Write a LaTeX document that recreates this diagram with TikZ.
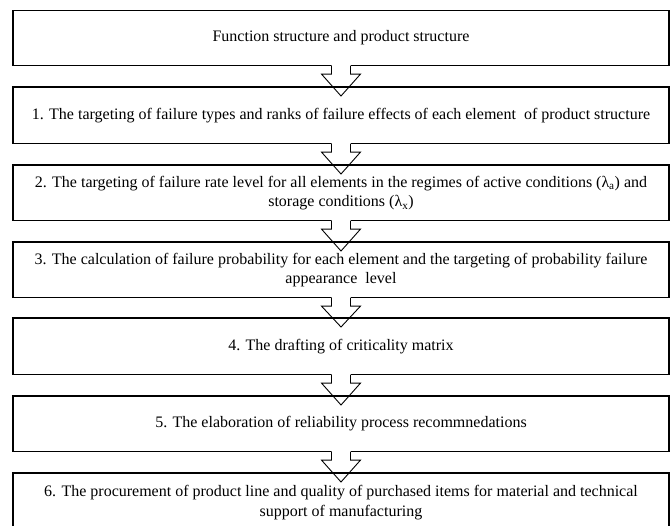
\documentclass[tikz,border=0pt]{standalone}
\usepackage{fontspec}
\setmainfont{Liberation Serif}
\usetikzlibrary{calc}
\newcommand\flowstep[2]{%
  \fill[white] ($(#1.south)+(-9.5,1.2)$) -- ($(#1.south)+(-9.5,-8)$) -- ($(#1.south)+(-19.5,-8)$) -- ($(#2.north)+(0,-9)$) -- ($(#1.south)+(19.5,-8)$) -- ($(#1.south)+(9.5,-8)$) -- ($(#1.south)+(9.5,1.2)$) -- cycle;
  \draw[arrowline] ($(#1.south)+(-9.5,0)$) -- ($(#1.south)+(-9.5,-8)$) -- ($(#1.south)+(-19.5,-8)$) -- ($(#2.north)+(0,-9)$) -- ($(#1.south)+(19.5,-8)$) -- ($(#1.south)+(9.5,-8)$) -- ($(#1.south)+(9.5,0)$);
  \draw[boxline] ($(#2.north west)+(-0.55,0)$) -- ($(#2.north east)+(0.55,0)$);
}
\begin{document}
\begin{tikzpicture}[x=1pt,y=1pt,
  boxline/.style={draw=black, line width=1.1pt},
  arrowline/.style={draw=black, line width=0.9pt, line join=miter},
  stepbox/.style={boxline, minimum width=656pt, minimum height=55pt, inner sep=0pt,
    align=center, anchor=north, font=\fontsize{16}{19.5}\selectfont}]
\useasboundingbox (0,0) rectangle (672,-526);
\node[stepbox] (b0) at (341,-10) {Function structure and product structure};
\node[stepbox, minimum height=56pt] (b1) at (341,-87) {1. The targeting of failure types and ranks of failure effects of each element~ of product structure};
\node[stepbox] (b2) at (341,-165) {2. The targeting of failure rate level for all elements in the regimes of active conditions (λ\textsubscript{a}) and\\storage conditions (λ\textsubscript{x})};
\node[stepbox] (b3) at (341,-242) {3. The calculation of failure probability for each element and the targeting of probability failure\\appearance~ level};
\node[stepbox, minimum height=56pt] (b4) at (341,-318) {4. The drafting of criticality matrix};
\node[stepbox] (b5) at (341,-396) {5. The elaboration of reliability process recommnedations};
\node[stepbox, minimum height=58pt] (b6) at (341,-473) {6. The procurement of product line and quality of purchased items for material and technical\\support of manufacturing};
\flowstep{b0}{b1}
\flowstep{b1}{b2}
\flowstep{b2}{b3}
\flowstep{b3}{b4}
\flowstep{b4}{b5}
\flowstep{b5}{b6}
\end{tikzpicture}
\end{document}
